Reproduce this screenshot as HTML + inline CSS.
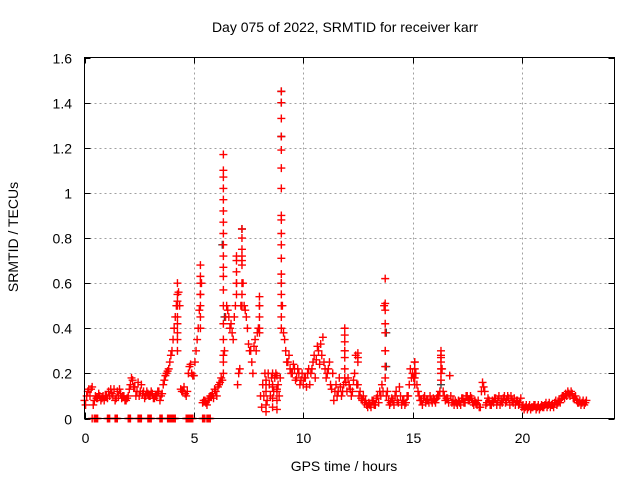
<!DOCTYPE html>
<html><head><meta charset="utf-8"><style>
body{margin:0;background:#fff;}
svg{display:block;font-family:"Liberation Sans",sans-serif;}
</style></head><body>
<svg id="chart" width="640" height="480" viewBox="0 0 640 480" xmlns="http://www.w3.org/2000/svg">
<rect width="640" height="480" fill="#fff"/>
<text x="345" y="32" text-anchor="middle" font-size="14">Day 075 of 2022, SRMTID for receiver karr</text>
<text transform="translate(18,237) rotate(-90)" text-anchor="middle" font-size="14">SRMTID / TECUs</text>
<text x="344" y="471" text-anchor="middle" font-size="14">GPS time / hours</text>
<g id="grid"></g>
<g id="ticks"></g>
<g id="marks"></g>
<rect x="84.5" y="57.5" width="530" height="361" fill="none" stroke="#000" stroke-width="1"/>
</svg>
<script>
const xTicks=[0,5,10,15,20];
const yTicks=[0,0.2,0.4,0.6,0.8,1,1.2,1.4,1.6];
const yTickLabels=["0","0.2","0.4","0.6","0.8","1","1.2","1.4","1.6"];
const baseStep=0.1;
const baseValues=[
0.08,0.1,0.13,0.13,0.06,0.1,0.09,0.1,0.09,0.08,
0.1,0.12,0.13,0.1,0.08,0.12,0.13,0.09,0.1,0.08,
0.1,0.15,0.17,0.14,0.12,0.1,0.15,0.12,0.1,0.11,
0.1,0.11,0.09,0.1,0.12,0.1,0.15,0.19,0.21,0.25,
0.3,0.4,0.5,0.56,0.13,0.12,0.11,0.12,0.23,0.2,
0.19,0.3,0.4,0.55,0.07,0.08,0.06,0.09,0.1,0.09,
0.12,0.14,0.16,0.17,0.3,0.5,0.45,0.42,0.35,0.5,
0.15,0.22,0.7,0.5,0.45,0.33,0.3,0.2,0.35,0.38,
0.5,0.05,0.1,0.15,0.2,0.1,0.15,0.18,0.12,0.1,
0.9,0.38,0.3,0.25,0.22,0.2,0.22,0.18,0.2,0.17,
0.15,0.18,0.2,0.15,0.22,0.28,0.26,0.3,0.33,0.36,
0.22,0.2,0.25,0.13,0.08,0.15,0.12,0.14,0.12,0.3,
0.12,0.15,0.1,0.17,0.28,0.15,0.12,0.08,0.07,0.06,
0.07,0.05,0.08,0.06,0.1,0.12,0.15,0.5,0.1,0.08,
0.07,0.08,0.1,0.08,0.14,0.06,0.08,0.07,0.1,0.22,
0.2,0.25,0.15,0.1,0.08,0.09,0.07,0.08,0.1,0.07,
0.08,0.09,0.1,0.28,0.12,0.08,0.09,0.19,0.07,0.06,
0.07,0.08,0.06,0.09,0.07,0.1,0.08,0.09,0.06,0.07,
0.08,0.05,0.16,0.12,0.07,0.08,0.06,0.07,0.09,0.08,
0.06,0.07,0.1,0.08,0.09,0.1,0.07,0.06,0.08,0.07,
0.05,0.04,0.06,0.05,0.04,0.05,0.06,0.05,0.04,0.06,
0.05,0.07,0.06,0.05,0.06,0.07,0.06,0.08,0.09,0.1,
0.11,0.12,0.1,0.11,0.09,0.08,0.07,0.06,0.08,0.07];
const midValues=[
0.06,0.12,0.1,0.14,0.08,0.09,0.11,0.08,0.1,0.1,
0.09,0.1,0.11,0.13,0.09,0.1,0.11,0.1,0.08,0.09,
0.13,0.18,0.14,0.1,0.16,0.12,0.11,0.09,0.12,0.1,
0.12,0.09,0.1,0.12,0.08,0.11,0.17,0.2,0.22,0.28,
0.35,0.45,0.52,0.5,0.12,0.14,0.1,0.2,0.24,0.19,
0.25,0.35,0.48,0.6,0.08,0.07,0.08,0.1,0.11,0.13,
0.1,0.15,0.18,0.25,0.45,0.48,0.4,0.38,0.45,0.6,
0.2,0.5,0.6,0.48,0.4,0.3,0.25,0.32,0.3,0.4,
0.1,0.15,0.2,0.08,0.15,0.18,0.12,0.2,0.15,0.18,
0.5,0.35,0.25,0.28,0.2,0.24,0.17,0.22,0.15,0.2,
0.18,0.14,0.22,0.2,0.25,0.18,0.32,0.24,0.28,0.25,
0.18,0.22,0.15,0.2,0.12,0.1,0.18,0.1,0.15,0.16,
0.18,0.13,0.12,0.2,0.15,0.1,0.09,0.1,0.08,0.05,
0.06,0.08,0.06,0.09,0.07,0.1,0.12,0.3,0.12,0.06,
0.09,0.06,0.12,0.07,0.1,0.08,0.06,0.1,0.15,0.18,
0.18,0.2,0.12,0.08,0.06,0.1,0.08,0.07,0.08,0.09,
0.07,0.1,0.12,0.22,0.1,0.09,0.07,0.1,0.08,0.08,
0.06,0.07,0.09,0.07,0.1,0.08,0.1,0.07,0.08,0.06,
0.05,0.12,0.14,0.06,0.09,0.06,0.08,0.09,0.06,0.1,
0.08,0.09,0.07,0.1,0.06,0.08,0.09,0.08,0.06,0.09,
0.06,0.05,0.04,0.06,0.05,0.06,0.04,0.06,0.05,0.05,
0.06,0.05,0.07,0.06,0.05,0.08,0.07,0.07,0.1,0.09,
0.1,0.11,0.12,0.09,0.1,0.07,0.08,0.07,0.06,0.08];
const spikeTimes=[4.25,5.3,6.35,7.2,6.95,8.0,9.0,11.9,12.5,13.75,16.3,15.1,8.3,8.6,8.8];
const spikeValues=[
[0.6,0.55,0.5,0.45,0.42,0.38,0.35,0.3],
[0.68,0.63,0.6,0.55,0.5,0.45,0.4],
[1.17,1.1,1.07,1.02,0.97,0.92,0.87,0.82,0.77,0.72,0.67,0.63,0.57,0.5,0.42,0.35,0.28,0.2],
[0.84,0.8,0.75,0.72,0.68,0.6,0.55,0.5],
[0.72,0.7,0.65,0.6,0.55],
[0.54,0.5,0.45,0.4,0.38],
[1.45,1.4,1.33,1.25,1.19,1.11,1.02,0.88,0.82,0.77,0.71,0.64,0.6,0.55,0.5,0.45,0.4],
[0.4,0.37,0.34,0.3,0.27,0.22,0.18],
[0.29,0.27,0.25],
[0.62,0.51,0.48,0.42,0.38,0.3,0.23,0.18],
[0.3,0.27,0.25,0.22,0.2,0.17],
[0.25,0.22,0.18,0.15],
[0.03,0.06,0.12,0.17],
[0.05,0.09,0.14,0.2],
[0.04,0.08,0.13,0.19]];
const zeroTimes=[0.35,0.45,0.5,0.55,0.6,1.05,1.1,1.15,1.4,1.45,1.5,2.0,2.05,2.1,2.45,2.5,2.55,2.6,2.9,2.95,3.0,3.05,3.45,3.5,3.55,3.8,3.85,3.9,3.95,4.0,4.05,4.1,4.15,4.65,4.7,4.75,4.8,4.85,4.9,4.95,5.4,5.45,5.5,5.6,5.65,5.7,5.75];
const greyTimes=[6.3,6.4,7.2,9.0,9.0,9.0,9.0,13.8,13.8,16.3];
const greyValues=[0.77,0.45,0.84,1.45,1.4,1.25,0.6,0.38,0.23,0.15];

const NS="http://www.w3.org/2000/svg";
const X0=84.5,PXH=21.87,Y0=418.5,PXU=225.6;
const xs=t=>X0+t*PXH, ys=v=>Y0-v*PXU;
const grid=document.getElementById('grid'),ticks=document.getElementById('ticks'),marks=document.getElementById('marks');
function line(p,x1,y1,x2,y2,st,dash){const l=document.createElementNS(NS,'line');l.setAttribute('x1',x1);l.setAttribute('y1',y1);l.setAttribute('x2',x2);l.setAttribute('y2',y2);l.setAttribute('stroke',st);if(dash)l.setAttribute('stroke-dasharray',dash);p.appendChild(l);return l;}
function txt(p,x,y,s,anchor){const t=document.createElementNS(NS,'text');t.setAttribute('x',x);t.setAttribute('y',y);t.setAttribute('font-size','14');t.setAttribute('text-anchor',anchor);t.textContent=s;p.appendChild(t);return t;}
xTicks.forEach(v=>{const x=Math.round(xs(v))+0.5;
 if(v>0){const g=line(grid,x,57.5,x,418.5,'#a0a0a0','2,3');}
 line(ticks,x,418.5,x,412.5,'#000');line(ticks,x,57.5,x,63.5,'#000');
 const t=txt(ticks,x,443,String(v),'middle');
 
 });
yTicks.forEach((v,i)=>{const y=Math.round(ys(v))+0.5;
 if(v>0&&v<1.6){const g=line(grid,84.5,y,614.5,y,'#a0a0a0','2,3');}
 line(ticks,84.5,y,90.5,y,'#000');line(ticks,614.5,y,608.5,y,'#000');
 const t=txt(ticks,72,y+5,yTickLabels[i],'end');
 
 });
function plus(t,v,col){const x=xs(t),y=ys(v);const p=document.createElementNS(NS,'path');
 p.setAttribute('d',`M${x-4} ${y}H${x+4}M${x} ${y-4}V${y+4}`);p.setAttribute('stroke',col);p.setAttribute('stroke-width','1.4');p.setAttribute('fill','none');
 
 
 marks.appendChild(p);}
greyTimes.forEach((t,i)=>plus(t,greyValues[i],'#444'));
baseValues.forEach((v,i)=>plus(i*baseStep,v,'#f00'));
midValues.forEach((v,i)=>plus(i*baseStep+baseStep/2,v,'#f00'));
spikeTimes.forEach((t,i)=>spikeValues[i].forEach(v=>plus(t,v,'#f00')));
zeroTimes.forEach(t=>plus(t,0,'#f00'));
</script>
</body></html>
